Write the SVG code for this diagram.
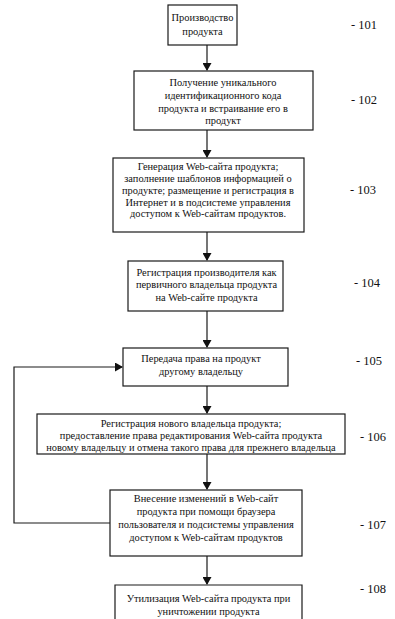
<svg xmlns="http://www.w3.org/2000/svg" width="395" height="619" viewBox="0 0 395 619">
<style>
.box{fill:#fff;stroke:#1a1a1a;stroke-width:1.2}
.t{font-family:"Liberation Serif","Times New Roman",serif;font-size:10.4px;fill:#111;text-anchor:middle}
.n{font-family:"Liberation Serif","Times New Roman",serif;font-size:12.5px;fill:#111}
.c{fill:none;stroke:#1a1a1a;stroke-width:1.2}
</style>
<defs>
<marker id="ah" markerWidth="8" markerHeight="9" refX="7" refY="4.5" orient="auto" markerUnits="userSpaceOnUse">
<path d="M0,0 L8,4.5 L0,9 Z" fill="#111"/>
</marker>
</defs>
<rect width="395" height="619" fill="#fff"/>
<g id="connectors">
<line class="c" x1="207" y1="45" x2="207" y2="70" marker-end="url(#ah)"/>
<line class="c" x1="207" y1="130" x2="207" y2="157" marker-end="url(#ah)"/>
<line class="c" x1="207" y1="232" x2="207" y2="260" marker-end="url(#ah)"/>
<line class="c" x1="207" y1="311" x2="207" y2="347" marker-end="url(#ah)"/>
<line class="c" x1="207" y1="386" x2="207" y2="413" marker-end="url(#ah)"/>
<line class="c" x1="207" y1="454" x2="207" y2="489" marker-end="url(#ah)"/>
<line class="c" x1="207" y1="556" x2="207" y2="584" marker-end="url(#ah)"/>
<polyline class="c" points="110,523 14,523 14,367 122,367" marker-end="url(#ah)"/>
</g>
<g id="n101">
<rect class="box" x="168" y="5" width="69" height="40"/>
<text class="t" x="202.5" y="21">Производство</text>
<text class="t" x="202.5" y="35">продукта</text>
<text class="n" x="351" y="29">-  101</text>
</g>
<g id="n102">
<rect class="box" x="134" y="71" width="179" height="59"/>
<text class="t" x="223" y="86">Получение уникального</text>
<text class="t" x="223" y="99">идентификационного кода</text>
<text class="t" x="223" y="112">продукта и встраивание его в</text>
<text class="t" x="223" y="124">продукт</text>
<text class="n" x="351" y="104">-  102</text>
</g>
<g id="n103">
<rect class="box" x="113" y="158" width="191" height="74"/>
<text class="t" x="208" y="170">Генерация Web-сайта продукта;</text>
<text class="t" x="208" y="182">заполнение шаблонов информацией о</text>
<text class="t" x="208" y="194">продукте; размещение и регистрация в</text>
<text class="t" x="208" y="206">Интернет и в подсистеме управления</text>
<text class="t" x="208" y="217">доступом к Web-сайтам продуктов.</text>
<text class="n" x="350" y="194">-  103</text>
</g>
<g id="n104">
<rect class="box" x="128" y="261" width="155" height="50"/>
<text class="t" x="206.5" y="276">Регистрация производителя как</text>
<text class="t" x="206.5" y="288">первичного владельца продукта</text>
<text class="t" x="206.5" y="301">на Web-сайте продукта</text>
<text class="n" x="354" y="287">-  104</text>
</g>
<g id="n105">
<rect class="box" x="123" y="348" width="165" height="38"/>
<text class="t" x="201" y="362">Передача права на продукт</text>
<text class="t" x="201" y="375">другому владельцу</text>
<text class="n" x="356" y="365">-  105</text>
</g>
<g id="n106">
<rect class="box" x="37" y="414" width="308" height="40"/>
<text class="t" x="191" y="427">Регистрация нового владельца продукта;</text>
<text class="t" x="191" y="439">предоставление права редактирования Web-сайта  продукта</text>
<text class="t" x="191" y="451">новому владельцу и отмена такого права для прежнего владельца</text>
<text class="n" x="360" y="441">-  106</text>
</g>
<g id="n107">
<rect class="box" x="110" y="490" width="192" height="66"/>
<text class="t" x="206" y="502">Внесение изменений в Web-сайт</text>
<text class="t" x="206" y="515">продукта при помощи браузера</text>
<text class="t" x="206" y="528">пользователя и подсистемы управления</text>
<text class="t" x="206" y="541">доступом к Web-сайтам продуктов</text>
<text class="n" x="360" y="529">-  107</text>
</g>
<g id="n108">
<path class="box" d="M115,620 L115,585 L302,585 L302,620"/>
<text class="t" x="208.5" y="602">Утилизация Web-сайта продукта при</text>
<text class="t" x="208.5" y="615">уничтожении продукта</text>
<text class="n" x="360" y="593">-  108</text>
</g>
</svg>
